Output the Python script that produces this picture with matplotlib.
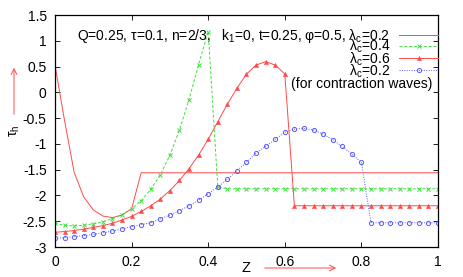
import numpy as np
import matplotlib
matplotlib.use("Agg")
import matplotlib.pyplot as plt

plt.rcParams['font.family'] = ['Liberation Sans', 'DejaVu Sans']
plt.rcParams['mathtext.fontset'] = 'custom'
plt.rcParams['mathtext.rm'] = 'Liberation Sans'
plt.rcParams['mathtext.it'] = 'Liberation Sans'

# axial grid (step 0.025)
z = np.round(np.arange(41) * 0.025, 3)

# lambda_c = 0.2 (plain line)
tau_02 = [0.53, -0.55, -1.55, -2.03, -2.28, -2.40, -2.43, -2.38, -2.26, -1.56] + [-1.56] * 31
# lambda_c = 0.4
tau_04 = [-2.54, -2.58, -2.59, -2.58, -2.55, -2.51, -2.45, -2.37, -2.26, -2.10,
          -1.88, -1.60, -1.22, -0.73, -0.14, 0.54, 1.18, -1.83] + [-1.87] * 23
# lambda_c = 0.6
tau_06 = [-2.715, -2.70, -2.68, -2.655, -2.62, -2.585, -2.54, -2.475, -2.405, -2.31,
          -2.20, -2.07, -1.905, -1.71, -1.48, -1.215, -0.91, -0.57, -0.23, 0.08,
          0.355, 0.53, 0.595, 0.53, 0.355, -2.2] + [-2.2] * 15
# lambda_c = 0.2, contraction waves
tau_c02 = [-2.83, -2.82, -2.80, -2.78, -2.755, -2.725, -2.69, -2.65, -2.605, -2.565,
           -2.53, -2.455, -2.38, -2.295, -2.20, -2.09, -1.97, -1.83, -1.69, -1.52,
           -1.355, -1.18, -1.05, -0.91, -0.775, -0.715, -0.70, -0.73, -0.81, -0.92,
           -1.05, -1.20, -1.36, -2.53] + [-2.53] * 7

labels = ["Q=0.25, \u03c4=0.1, n=2/3,   k$_1$=0, t=0.25, \u03c6=0.5, \u03bb$_\\mathrm{c}$=0.2",
          "\u03bb$_\\mathrm{c}$=0.4", "\u03bb$_\\mathrm{c}$=0.6", "\u03bb$_\\mathrm{c}$=0.2"]

xticks = [0, 0.2, 0.4, 0.6, 0.8, 1]
yticks = [-3, -2.5, -2, -1.5, -1, -0.5, 0, 0.5, 1, 1.5]

red = '#ff4a4a'
green = '#3ee03e'
blue = '#5a5aff'
fs = 10

fig = plt.figure(figsize=(4.64, 2.77), dpi=100)
ax = fig.add_axes([0.1185, 0.1083, 0.8255, 0.8375])

l1, = ax.plot(z, tau_02, color=red, lw=0.7, label=labels[0])
l2, = ax.plot(z, tau_04, color=green, lw=0.7, ls=(0, (3, 2)), marker='x', ms=3, mew=0.7, label=labels[1])
l3, = ax.plot(z, tau_06, color=red, lw=0.7, marker='^', ms=3, mew=0.4, label=labels[2])
l4, = ax.plot(z, tau_c02, color=blue, lw=0.7, ls=(0, (1, 1.5)), marker='o', ms=3, mfc='none', mew=0.7, label=labels[3])

ax.set_xlim(0, 1)
ax.set_ylim(-3, 1.5)
ax.set_xticks(xticks)
ax.set_xticklabels([f"{t:g}" for t in xticks])
ax.set_yticks(yticks)
ax.set_yticklabels([f"{t:g}" for t in yticks])
ax.tick_params(direction='in', length=3.5, width=0.6, top=True, right=True,
               labelsize=fs, pad=6)
for s in ax.spines.values():
    s.set_linewidth(0.9)

# gnuplot-like key: text right-aligned left of the samples
key_opts = dict(markerfirst=False, frameon=False, fontsize=fs, handlelength=2.8,
                handletextpad=0.65, borderaxespad=0.0, borderpad=0.0, numpoints=1)
leg1 = ax.legend(handles=[l1], loc='center right', bbox_to_anchor=(1.0, 0.91), **key_opts)
ax.add_artist(leg1)
ax.legend(handles=[l2, l3, l4], loc='center right', bbox_to_anchor=(1.0, 0.811),
          labelspacing=-0.38, **key_opts)

ax.text(0.985, 0.16, "(for contraction waves)", ha='right', va='center', fontsize=fs,
        transform=ax.transData)

# axis labels with red arrows (gnuplot style)
fig.text(15 / 464, 1 - 131 / 277, "\u03c4$_\\mathrm{h}$", rotation=90, ha='center', va='center', fontsize=fs)
ax.annotate("", xy=(14 / 464, 1 - 65 / 277), xytext=(14 / 464, 1 - 117 / 277),
            xycoords='figure fraction', textcoords='figure fraction',
            arrowprops=dict(arrowstyle='->', color=red, lw=0.7))
fig.text(246 / 464, 1 - 268 / 277, "Z", ha='center', va='center', fontsize=fs + 0.5)
ax.annotate("", xy=(339 / 464, 1 - 268 / 277), xytext=(262 / 464, 1 - 268 / 277),
            xycoords='figure fraction', textcoords='figure fraction',
            arrowprops=dict(arrowstyle='->', color=red, lw=0.7))

fig.savefig("out.png", dpi=100)
